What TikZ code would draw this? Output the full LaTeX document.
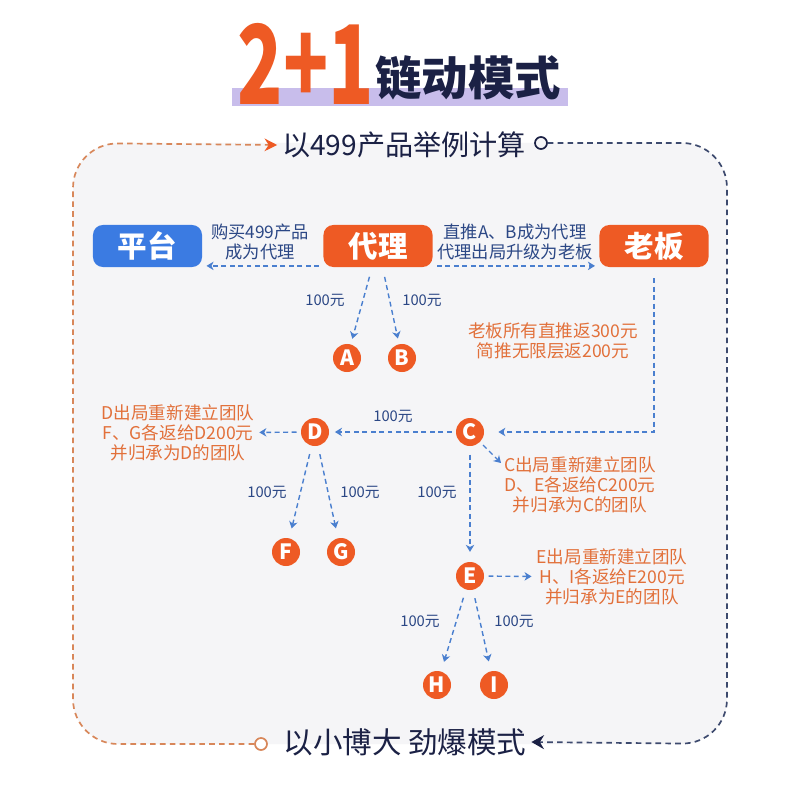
\documentclass[tikz,border=0pt]{standalone}
\usepackage{fontspec}
\setmainfont{Noto Sans CJK SC}
\usetikzlibrary{arrows.meta}

\definecolor{hotorange}{HTML}{EE5A24}
\definecolor{boxblue}{HTML}{3B7BE2}
\definecolor{flowblue}{HTML}{4A7FCF}
\definecolor{inknavy}{HTML}{2B4785}
\definecolor{noteorange}{HTML}{E2703A}
\definecolor{paper}{HTML}{F5F5F7}
\definecolor{darknavy}{HTML}{1B2145}
\definecolor{lilac}{HTML}{C8BDEB}
\definecolor{rimorange}{HTML}{D8875A}
\definecolor{rimnavy}{HTML}{3D4A6E}

\begin{document}
\begin{tikzpicture}[x=0.025cm, y=-0.025cm,
    box/.style={rounded corners=7pt, minimum width=2.725cm, minimum height=1.05cm, inner sep=0pt, text=white, font=\fontsize{21}{21}\selectfont\bfseries},
    ball/.style={circle, fill=hotorange, minimum size=0.7cm, inner sep=0pt, text=white, font=\fontsize{15}{15}\selectfont\bfseries},
    flow/.style={flowblue, line width=1pt, dash pattern=on 3.5pt off 2.5pt, -{Stealth[length=5pt, width=6pt, inset=1.5pt]}},
    money/.style={text=inknavy, font=\fontsize{10.5}{12}\selectfont},
    tip/.style={text=inknavy, align=center, font=\fontsize{12.3}{14}\selectfont},
    note/.style={text=noteorange, align=center, font=\fontsize{12.5}{14.2}\selectfont},
    ring/.style={circle, draw, line width=1.2pt, minimum size=0.3cm, inner sep=0pt},
    rim/.style={line width=1.2pt, dash pattern=on 4pt off 3pt, rounded corners=1.125cm}]

    \useasboundingbox ( 0, 0 ) rectangle ( 800, 800 );
    \fill[white] ( 0, 0 ) rectangle ( 800, 800 );

    % title
    \fill[lilac] ( 232, 88 ) rectangle ( 568, 106 );
    \node[text=hotorange, font=\fontsize{78}{78}\selectfont\bfseries, xscale=0.68] (big) at ( 306, 64 ) {2+1};
    \node[text=darknavy, font=\fontsize{33}{33}\selectfont\bfseries] (title) at ( 468, 78 ) {链动模式};

    % frame
    \fill[paper, rounded corners=1.125cm] ( 73, 143 ) rectangle ( 727, 744 );
    \node[text=darknavy, font=\fontsize{20}{20}\selectfont] (sub) at ( 404, 145 ) {以499产品举例计算};
    \node[text=darknavy, font=\fontsize{21}{21}\selectfont] (motto) at ( 405, 742 ) {以小博大 劲爆模式};
    \node[ring, draw=darknavy, fill=paper] (nring) at ( 541, 143 ) {};
    \node[ring, draw=rimorange, fill=white] (oring) at ( 261, 744 ) {};
    \draw[rim, rimorange, -{Stealth[length=9pt, width=9pt, inset=3pt, color=hotorange]}] (oring) -| ( 73, 143 ) -- (sub.west);
    \draw[rim, rimnavy, -{Stealth[length=9pt, width=10pt, inset=3pt, color=darknavy]}] (nring) -| ( 727, 744 ) -- (motto.east);

    % top row
    \node[box, fill=boxblue] (ping) at ( 147.5, 246 ) {平台};
    \node[box, fill=hotorange] (daili) at ( 378, 246 ) {代理};
    \node[box, fill=hotorange] (laoban) at ( 654, 246 ) {老板};
    \node[tip] (buy) at ( 260, 242 ) {购买499产品\\成为代理};
    \node[tip] (rise) at ( 515, 242 ) {直推A、B成为代理\\代理出局升级为老板};
    \draw[flow, shorten <=3pt, shorten >=3pt] ([yshift=1pt]daili.south west) -- ([yshift=1pt]ping.south east);
    \draw[flow, shorten <=3pt, shorten >=3pt] ([yshift=1pt]daili.south east) -- ([yshift=1pt]laoban.south west);

    % A, B
    \node[ball] (A) at ( 347, 358 ) {A};
    \node[ball] (B) at ( 402, 358 ) {B};
    \draw[flow, shorten <=7pt, shorten >=4pt] (daili) -- (A);
    \draw[flow, shorten <=7pt, shorten >=4pt] (daili) -- (B);
    \node[money] (pa) at ( 325, 300 ) {100元};
    \node[money] (pb) at ( 422, 300 ) {100元};

    % boss -> C
    \node[note] (bossnote) at ( 553, 341 ) {老板所有直推返300元\\简推无限层返200元};
    \node[ball] (C) at ( 470, 432 ) {C};
    \draw[flow, shorten >=10pt] (laoban.south) ++( 0, 11 ) |- (C);

    % C -> D
    \node[ball] (D) at ( 315, 432 ) {D};
    \draw[flow, shorten <=3pt, shorten >=4pt] (C) -- (D);
    \node[money] (pd) at ( 393, 416 ) {100元};
    \node[note] (dnote) at ( 178, 433 ) {D出局重新建立团队\\F、G各返给D200元\\并归承为D的团队};
    \draw[flow, shorten <=3pt] (D) -- (dnote);

    % F, G
    \node[ball] (F) at ( 286, 552 ) {F};
    \node[ball] (G) at ( 341, 552 ) {G};
    \draw[flow, shorten <=6pt, shorten >=7pt] (D) -- (F);
    \draw[flow, shorten <=6pt, shorten >=7pt] (D) -- (G);
    \node[money] (pf) at ( 267, 492 ) {100元};
    \node[money] (pg) at ( 360, 492 ) {100元};

    % C -> E
    \node[ball] (E) at ( 470, 576 ) {E};
    \draw[flow, shorten <=6pt, shorten >=7pt] (C) -- (E);
    \node[money] (pe) at ( 437, 492 ) {100元};
    \node[note] (cnote) at ( 580, 485 ) {C出局重新建立团队\\D、E各返给C200元\\并归承为C的团队};
    \coordinate (cend) at ( 501, 463 );
    \draw[flow, shorten <=3pt] (C) -- (cend);
    \node[note] (enote) at ( 612, 577 ) {E出局重新建立团队\\H、I各返给E200元\\并归承为E的团队};
    \draw[flow, shorten <=3pt] (E) -- (enote);

    % H, I
    \node[ball] (H) at ( 437, 685 ) {H};
    \node[ball] (I) at ( 494, 685 ) {I};
    \draw[flow, shorten <=6pt, shorten >=7pt] (E) -- (H);
    \draw[flow, shorten <=6pt, shorten >=7pt] (E) -- (I);
    \node[money] (ph) at ( 420, 621 ) {100元};
    \node[money] (pi) at ( 514, 621 ) {100元};
\end{tikzpicture}
\end{document}
